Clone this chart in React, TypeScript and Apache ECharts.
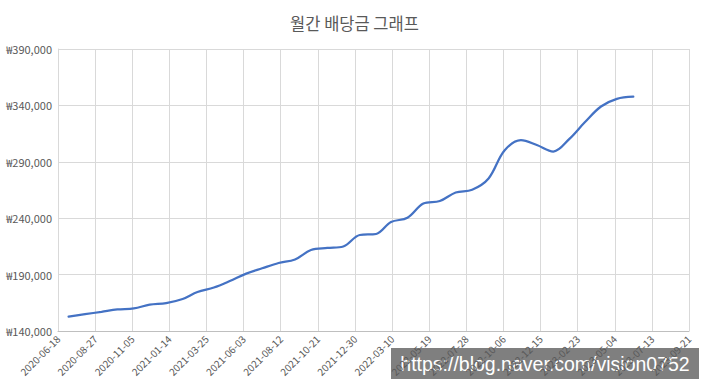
import React, { useEffect, useRef } from "react";
import * as echarts from "echarts";

const TITLE = "월간 배당금 그래프";
const START_DATE = "2020-06-18";
const X_MAX_DAYS = 1190;
const X_INTERVAL_DAYS = 70;
const Y_MIN = 140000;
const Y_MAX = 390000;
const Y_INTERVAL = 50000;

const dates = [
  "2020-07-08", "2020-08-08", "2020-09-08", "2020-10-08", "2020-11-08", "2020-12-08",
  "2021-01-08", "2021-02-08", "2021-03-08", "2021-04-08", "2021-05-08", "2021-06-08",
  "2021-07-08", "2021-08-08", "2021-09-08", "2021-10-08", "2021-11-08", "2021-12-08",
  "2022-01-08", "2022-02-08", "2022-03-08", "2022-04-08", "2022-05-08", "2022-06-08",
  "2022-07-08", "2022-08-08", "2022-09-08", "2022-10-08", "2022-11-08", "2022-12-08",
  "2023-01-08", "2023-02-08", "2023-03-08", "2023-04-08", "2023-05-08", "2023-06-08",
];

const dividends = [
  152700, 154900, 157000, 159100, 160100, 163300,
  164800, 168400, 174600, 178600, 184300, 190900,
  195600, 200300, 203400, 211800, 213600, 214900,
  225100, 226000, 236600, 240400, 253000, 255200,
  262800, 265200, 275200, 300000, 309300, 304900,
  299100, 310600, 324800, 339000, 345800, 347700,
];

const WATERMARK = "https://blog.naver.com/vision0752";

const DAY = 86400000;
const base = Date.parse(START_DATE + "T00:00:00Z");
const toDays = (s: string) => Math.round((Date.parse(s + "T00:00:00Z") - base) / DAY);
const fromDays = (d: number) => new Date(base + d * DAY).toISOString().slice(0, 10);

export default function App() {
  const ref = useRef<HTMLDivElement>(null);
  useEffect(() => {
    if (!ref.current) return;
    const chart = echarts.init(ref.current, null, { renderer: "svg" });
    const font = "'Noto Sans CJK KR', 'Noto Sans', sans-serif";
    chart.setOption({
      animation: false,
      backgroundColor: "#ffffff",
      title: {
        text: TITLE,
        left: "center",
        top: 10,
        textStyle: { fontFamily: font, fontSize: 16.5, fontWeight: "normal", color: "#595959" },
      },
      grid: { left: 58, right: 20, top: 49, bottom: 58 },
      xAxis: {
        type: "value",
        min: 0,
        max: X_MAX_DAYS,
        interval: X_INTERVAL_DAYS,
        axisLine: { show: true, lineStyle: { color: "#bfbfbf", width: 1 } },
        axisTick: { show: false },
        splitLine: { show: true, lineStyle: { color: "#d9d9d9", width: 1 } },
        axisLabel: {
          rotate: 45,
          margin: 6,
          fontFamily: font,
          fontSize: 10,
          color: "#595959",
          formatter: (v: number) => fromDays(v),
          showMaxLabel: true,
          showMinLabel: true,
        },
      },
      yAxis: {
        type: "value",
        min: Y_MIN,
        max: Y_MAX,
        interval: Y_INTERVAL,
        axisLine: { show: true, lineStyle: { color: "#d9d9d9", width: 1 } },
        axisTick: { show: false },
        splitLine: { show: true, lineStyle: { color: "#d9d9d9", width: 1 } },
        axisLabel: {
          margin: 6,
          fontFamily: font,
          fontSize: 11,
          color: "#595959",
          formatter: (v: number) => "₩" + v.toLocaleString("en-US"),
        },
      },
      series: [
        {
          type: "line",
          data: dates.map((d, i) => [toDays(d), dividends[i]]),
          smooth: 0.35,
          showSymbol: false,
          lineStyle: { color: "#4472C4", width: 2.25, cap: "round" },
        },
      ],
      graphic: [
        {
          type: "group",
          z: 100,
          children: [
            {
              type: "rect",
              shape: { x: 391, y: 348, width: 308, height: 31 },
              style: { fill: "rgba(0,0,0,0.5)" },
            },
            {
              type: "text",
              x: 545,
              y: 364,
              style: {
                text: WATERMARK,
                fill: "#ffffff",
                fontFamily: "'Liberation Sans', Arial, sans-serif",
                fontSize: 19.5,
                align: "center",
                verticalAlign: "middle",
              },
            },
          ],
        },
      ],
    });
    return () => chart.dispose();
  }, []);
  return <div ref={ref} style={{ width: 709, height: 389, position: "absolute", left: 0, top: 0 }} />;
}
